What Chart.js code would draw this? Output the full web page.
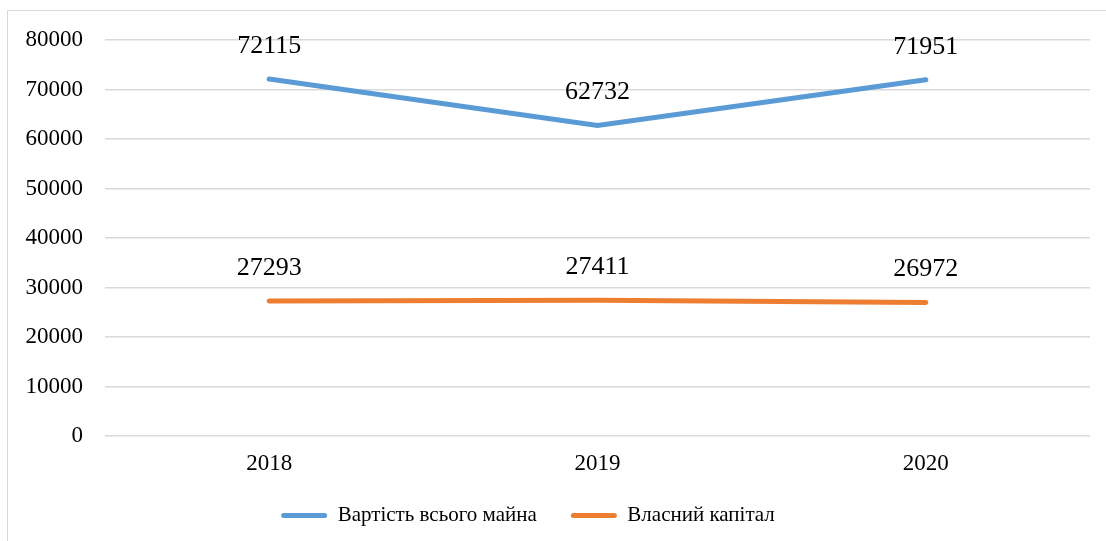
<!DOCTYPE html>
<html>
<head>
<meta charset="utf-8">
<script src="https://cdn.jsdelivr.net/npm/chart.js@4"></script>
<style>
	body { margin: 0; background: #fff; overflow: hidden; }
	#frame { position: absolute; left: 7px; top: 10px; width: 1120px; height: 600px; border: 1px solid #d9d9d9; box-sizing: border-box; }
	#wrap { position: absolute; left: 0; top: 0; width: 1106px; height: 541px; }
</style>
</head>
<body>
<div id="frame"></div>
<div id="wrap"><canvas id="lineChart"></canvas></div>
<script>
//	Chart data
var years = ['2018', '2019', '2020'];
var totalAssets = [72115, 62732, 71951];
var ownCapital = [27293, 27411, 26972];
var yTicks = [0, 10000, 20000, 30000, 40000, 50000, 60000, 70000, 80000];

var seriesNames = ['Вартість всього майна', 'Власний капітал'];
var seriesColors = ['#5b9bd5', '#ed7d31'];
var serif = "Liberation Serif, serif";

Chart.defaults.font.family = serif;
Chart.defaults.color = '#000';

/**
 *	Draws the value above each point, like Excel data labels
 */
var valueLabels = {
	id: 'valueLabels',
	afterDatasetsDraw: function (chart) {
		var ctx = chart.ctx;
		ctx.save();
		ctx.font = '26px ' + serif;
		ctx.fillStyle = '#000';
		ctx.textAlign = 'center';
		ctx.textBaseline = 'middle';
		chart.data.datasets.forEach(function (ds, i) {
			var meta = chart.getDatasetMeta(i);
			meta.data.forEach(function (pt, j) {
				ctx.fillText(String(ds.data[j]), pt.x, pt.y - 33);
			});
		});
		ctx.restore();
	}
};

/**
 *	Nudges the legend box: Excel sits it a little left of the page centre
 */
var legendNudge = {
	id: 'legendNudge',
	afterLayout: function (chart) {
		var lg = chart.legend;
		lg.left -= 17;
		lg.right -= 17;
		lg.top -= 5;
		lg.bottom -= 5;
	}
};

var ctx = document.getElementById('lineChart');
var newChart = new Chart(ctx, {
	type: 'line',
	data: {
		labels: years,
		datasets: [{
				label: seriesNames[0],
				data: totalAssets,
				borderColor: seriesColors[0],
				backgroundColor: seriesColors[0],
				borderWidth: 5,
				borderCapStyle: 'round',
				pointRadius: 0,
				tension: 0,
				fill: false
			},
			{
				label: seriesNames[1],
				data: ownCapital,
				borderColor: seriesColors[1],
				backgroundColor: seriesColors[1],
				borderWidth: 5,
				borderCapStyle: 'round',
				pointRadius: 0,
				tension: 0,
				fill: false
			}
		]
	},
	options: {
		responsive: true,
		maintainAspectRatio: false,
		animation: false,
		layout: {
			padding: { left: 0, right: 16, top: 40, bottom: 0 }
		},
		scales: {
			x: {
				offset: true,
				afterFit: function (scale) { scale.height = 40; },
				grid: { display: false, drawTicks: false },
				border: { display: false },
				ticks: {
					color: '#000',
					font: { family: serif, size: 23 },
					padding: 14
				}
			},
			y: {
				min: 0,
				max: 80000,
				afterFit: function (scale) { scale.width = 105; },
				afterBuildTicks: function (scale) {
					scale.ticks = yTicks.map(function (v) { return { value: v }; });
				},
				grid: { color: '#d9d9d9', lineWidth: 1.5, drawTicks: false },
				border: { display: false },
				ticks: {
					color: '#000',
					font: { family: serif, size: 23 },
					padding: 22,
					callback: function (v) { return String(v); }
				}
			}
		},
		plugins: {
			legend: {
				position: 'bottom',
				maxHeight: 69,
				labels: {
					color: '#000',
					font: { family: serif, size: 21 },
					boxWidth: 46,
					boxHeight: 5,
					useBorderRadius: true,
					borderRadius: 2.5,
					padding: 34,
					generateLabels: function (chart) {
						return chart.data.datasets.map(function (ds, i) {
							return {
								text: ds.label,
								fillStyle: ds.borderColor,
								strokeStyle: ds.borderColor,
								lineWidth: 0,
								fontColor: '#000',
								borderRadius: 2.5,
								datasetIndex: i
							};
						});
					}
				}
			},
			tooltip: { enabled: false }
		}
	},
	plugins: [valueLabels, legendNudge]
});
</script>
</body>
</html>
